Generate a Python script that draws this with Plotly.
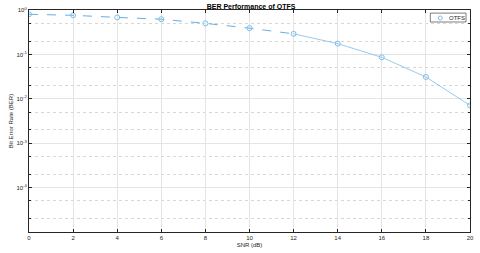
import plotly.graph_objects as go

snr_db = [0, 2, 4, 6, 8, 10, 12, 14, 16, 18, 20]
ber = [0.80, 0.76, 0.68, 0.62, 0.50, 0.39, 0.29, 0.175, 0.086, 0.031, 0.0071]
y_tick_vals = [1, 0.1, 0.01, 0.001, 0.0001]
y_tick_text = ["10<sup>0</sup>", "10<sup>-1</sup>", "10<sup>-2</sup>", "10<sup>-3</sup>", "10<sup>-4</sup>"]
x_tick_vals = [0, 2, 4, 6, 8, 10, 12, 14, 16, 18, 20]
series_name = "OTFS"

split = 6  # index where dashed part ends
line_col = "rgb(125,190,232)"
dash_col = "rgb(100,175,228)"
txt_col = "rgb(38,38,38)"
font_fam = "Liberation Sans, Arial"

fig = go.Figure()
fig.add_trace(go.Scatter(x=snr_db[:split + 1], y=ber[:split + 1], mode="lines",
                         line=dict(color=dash_col, width=1, dash="dash"), showlegend=False))
fig.add_trace(go.Scatter(x=snr_db[split:], y=ber[split:], mode="lines",
                         line=dict(color=line_col, width=0.8), showlegend=False))
fig.add_trace(go.Scatter(x=snr_db, y=ber, mode="markers", name=series_name, showlegend=False,
                         marker=dict(symbol="circle-open", size=5, color=line_col, line=dict(width=1))))

axis_common = dict(showline=True, linecolor=txt_col, linewidth=1, mirror="ticks",
                   ticks="inside", ticklen=3, tickcolor=txt_col,
                   tickfont=dict(family=font_fam, size=6, color=txt_col),
                   showgrid=True, gridcolor="rgb(228,228,228)", gridwidth=1, zeroline=False)

fig.update_xaxes(range=[0, 20], tickvals=x_tick_vals, title=dict(text="SNR (dB)", standoff=2,
                 font=dict(family=font_fam, size=6, color=txt_col)), **axis_common)
fig.update_yaxes(type="log", range=[-5, 0], tickvals=y_tick_vals, ticktext=y_tick_text,
                 minor=dict(showgrid=True, griddash="dot", gridcolor="rgb(215,215,215)", gridwidth=0.7,
                            ticks="inside", ticklen=2, tickcolor=txt_col),
                 title=dict(text="Bit Error Rate (BER)", standoff=2,
                            font=dict(family=font_fam, size=6, color=txt_col)),
                 **axis_common)

# MATLAB-style legend box
fig.add_shape(type="rect", xref="paper", yref="paper", x0=0.910, x1=0.991, y0=0.946, y1=0.986,
              fillcolor="white", line=dict(color=txt_col, width=0.6), layer="above")
fig.add_shape(type="circle", xref="paper", yref="paper", x0=0.9281, x1=0.9371, y0=0.955, y1=0.973,
              line=dict(color=line_col, width=1), layer="above")
fig.add_annotation(xref="paper", yref="paper", x=0.971, y=0.966, xanchor="center", yanchor="middle",
                   text=series_name, showarrow=False,
                   font=dict(family=font_fam, size=6, color=txt_col))

fig.update_layout(
    width=480, height=253,
    margin=dict(l=29, r=6, t=10, b=21),
    plot_bgcolor="white", paper_bgcolor="white",
    title=dict(text="<b>BER Performance of OTFS</b>", x=0.523, xanchor="center", y=0.985, yanchor="top",
               font=dict(family=font_fam, size=7, color="black")),
)

fig.write_html("out.html", config={"displayModeBar": False},
               post_script="document.body.style.margin='0';document.body.style.overflow='hidden';")
